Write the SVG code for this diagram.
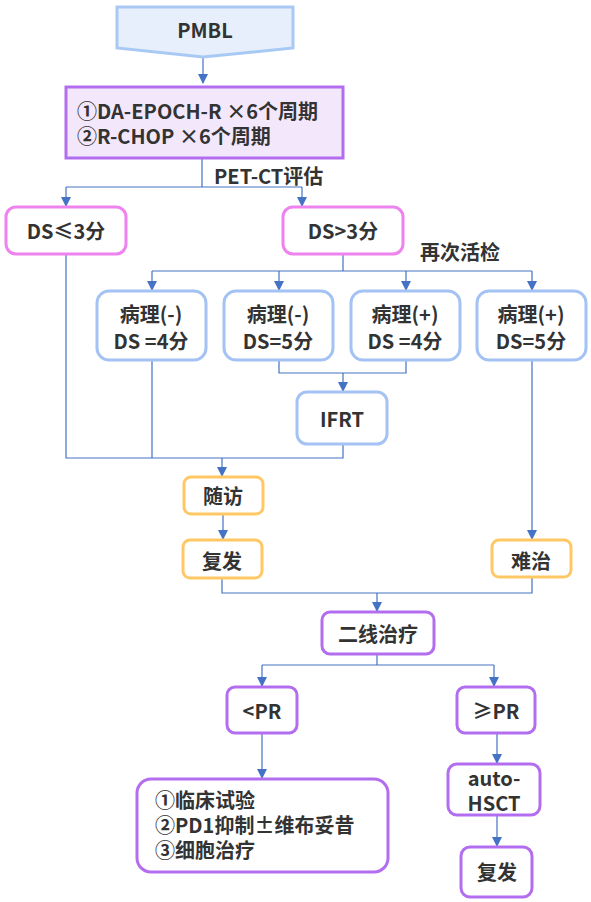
<svg xmlns="http://www.w3.org/2000/svg" width="591" height="902" viewBox="0 0 591 902">
<defs>
<marker id="ah" markerWidth="10" markerHeight="10" refX="9" refY="5" orient="auto" markerUnits="userSpaceOnUse">
<path d="M0,0 L10,5 L0,10 Z" fill="#4472c4"/>
</marker>
<style>
text{font-family:"Noto Sans CJK SC","Noto Sans",sans-serif;font-weight:bold;font-size:20px;fill:#333;}
.c{text-anchor:middle;}
.line{fill:none;stroke:#4472c4;stroke-width:1.2;}
.arr{fill:none;stroke:#4472c4;stroke-width:1.2;marker-end:url(#ah);}
.blue{fill:#fff;stroke:#a4c2f4;stroke-width:3;}
.pink{fill:#fff;stroke:#ee82ee;stroke-width:3;}
.orange{fill:#fff;stroke:#ffc864;stroke-width:3;}
.purple{fill:#fff;stroke:#b36ef0;stroke-width:3;}
</style>
</defs>
<rect width="591" height="902" fill="#fff"/>
<g id="connectors">
<path class="arr" d="M203,58 V83"/>
<path class="line" d="M202,158 V187 M66,187 H302"/>
<path class="arr" d="M66,187 V206"/>
<path class="arr" d="M302,187 V206"/>
<path class="line" d="M343,255 V271 M152,271 H532"/>
<path class="arr" d="M152,271 V290"/>
<path class="arr" d="M279,271 V290"/>
<path class="arr" d="M406,271 V290"/>
<path class="arr" d="M532,271 V290"/>
<path class="line" d="M279,360 V373 H406 V360"/>
<path class="arr" d="M343,373 V391"/>
<path class="line" d="M66,255 V458 H343 V444 M152,360 V458"/>
<path class="arr" d="M222,458 V476"/>
<path class="arr" d="M223,514 V539"/>
<path class="arr" d="M532,360 V539"/>
<path class="line" d="M222,578 V593 H532 V577"/>
<path class="arr" d="M377,593 V611"/>
<path class="line" d="M377,654 V665 M262,665 H494"/>
<path class="arr" d="M262,665 V686"/>
<path class="arr" d="M494,665 V686"/>
<path class="arr" d="M262,733 V778"/>
<path class="arr" d="M497,733 V763"/>
<path class="arr" d="M497,815 V846"/>
</g>
<g id="pmbl">
<path d="M117,7 H293 V48 L203,57 L117,48 Z" fill="#e6effb" stroke="#a9c9f5" stroke-width="3"/>
<text class="c" x="205" y="38">PMBL</text>
</g>
<g id="regimen">
<rect x="66" y="87" width="277" height="71" fill="#f3e8fb" stroke="#b36ef0" stroke-width="3"/>
<text x="77" y="119">①DA-EPOCH-R ×6个周期</text>
<text x="77" y="144">②R-CHOP ×6个周期</text>
</g>
<text x="214" y="184">PET-CT评估</text>
<g id="ds-le3">
<rect class="pink" x="6" y="207" width="120" height="47" rx="10"/>
<text class="c" x="66" y="239">DS≤3分</text>
</g>
<g id="ds-gt3">
<rect class="pink" x="283" y="207" width="120" height="47" rx="10"/>
<text class="c" x="343" y="239">DS&gt;3分</text>
</g>
<text x="420" y="260">再次活检</text>
<g id="p1">
<rect class="blue" x="97" y="291" width="109" height="69" rx="12"/>
<text class="c" x="151" y="322">病理(-)</text>
<text class="c" x="151" y="349">DS =4分</text>
</g>
<g id="p2">
<rect class="blue" x="224" y="291" width="109" height="69" rx="12"/>
<text class="c" x="278" y="322">病理(-)</text>
<text class="c" x="278" y="349">DS=5分</text>
</g>
<g id="p3">
<rect class="blue" x="351" y="291" width="109" height="69" rx="12"/>
<text class="c" x="405" y="322">病理(+)</text>
<text class="c" x="405" y="349">DS =4分</text>
</g>
<g id="p4">
<rect class="blue" x="477" y="291" width="109" height="69" rx="12"/>
<text class="c" x="531" y="322">病理(+)</text>
<text class="c" x="531" y="349">DS=5分</text>
</g>
<g id="ifrt">
<rect class="blue" x="297" y="392" width="90" height="52" rx="10"/>
<text class="c" x="342" y="427">IFRT</text>
</g>
<g id="followup">
<rect class="orange" x="184" y="477" width="79" height="37" rx="7"/>
<text class="c" x="223" y="504">随访</text>
</g>
<g id="relapse1">
<rect class="orange" x="183" y="540" width="79" height="38" rx="7"/>
<text class="c" x="222" y="569">复发</text>
</g>
<g id="refractory">
<rect class="orange" x="492" y="540" width="79" height="37" rx="7"/>
<text class="c" x="531" y="569">难治</text>
</g>
<g id="second-line">
<rect class="purple" x="322" y="612" width="112" height="42" rx="8"/>
<text class="c" x="378" y="642">二线治疗</text>
</g>
<g id="lt-pr">
<rect class="purple" x="227" y="687" width="70" height="46" rx="8"/>
<text class="c" x="262" y="719">&lt;PR</text>
</g>
<g id="ge-pr">
<rect class="purple" x="457" y="687" width="78" height="46" rx="8"/>
<text class="c" x="496" y="719">≥PR</text>
</g>
<g id="options">
<rect class="purple" x="137" y="779" width="251" height="93" rx="14"/>
<text x="155" y="808">①临床试验</text>
<text x="155" y="833">②PD1抑制±维布妥昔</text>
<text x="155" y="858">③细胞治疗</text>
</g>
<g id="ahsct">
<rect class="purple" x="448" y="764" width="92" height="51" rx="9"/>
<text class="c" x="494" y="786">auto-</text>
<text class="c" x="494" y="811">HSCT</text>
</g>
<g id="relapse2">
<rect class="purple" x="461" y="847" width="71" height="50" rx="9"/>
<text class="c" x="497" y="880">复发</text>
</g>
</svg>
